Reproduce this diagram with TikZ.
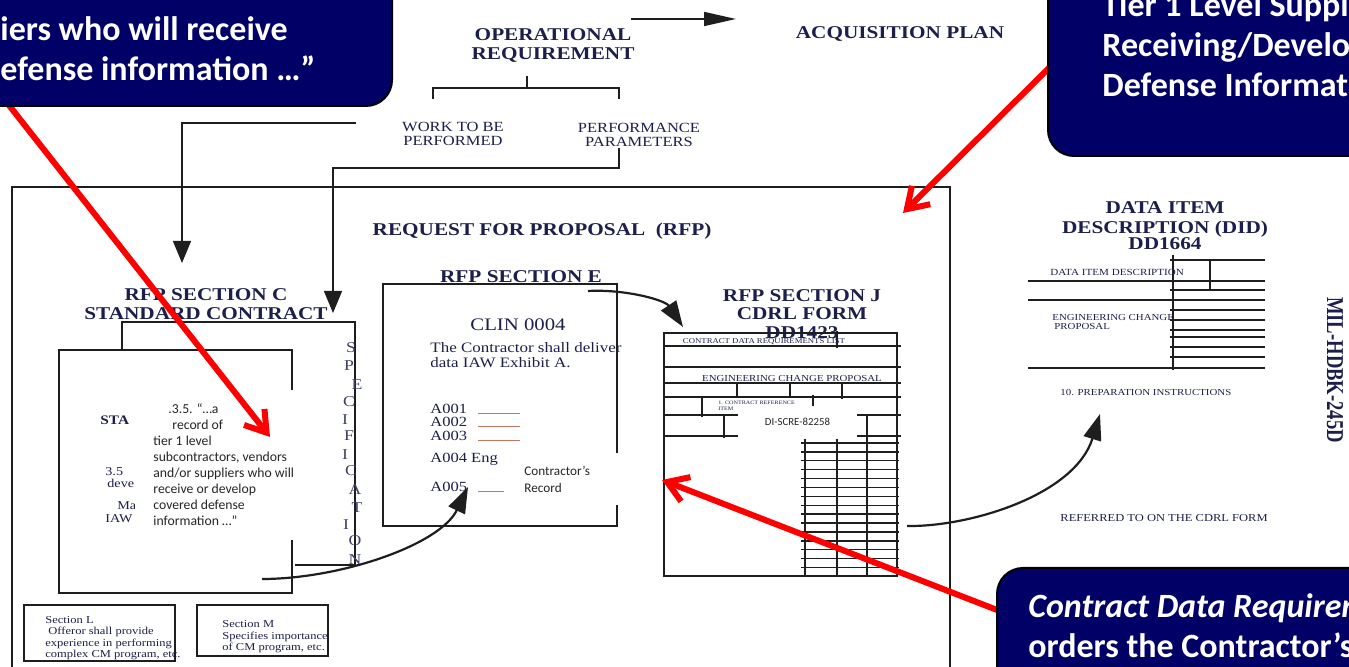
\documentclass[tikz,border=0pt]{standalone}
\usepackage{fontspec}
\setmainfont{Liberation Serif}
\newfontfamily\scanserif[FakeStretch=1.18]{Liberation Serif}
\newfontfamily\slidefont{Carlito}
\usetikzlibrary{arrows.meta,positioning,calc}
\definecolor{Navy}{HTML}{000066}
\definecolor{Ink}{HTML}{1B1F4A}
\definecolor{Rule}{HTML}{1E1E1E}
\definecolor{Hot}{HTML}{FF0000}
\definecolor{Body}{HTML}{262626}
\definecolor{Smear}{HTML}{C07565}

\begin{document}
\begin{tikzpicture}[x=0.5pt,y=-0.5pt,
    hd/.style={font=\scanserif\bfseries\fontsize{9}{9.25}\selectfont,text=Ink,align=center,inner sep=0pt},
    hdsm/.style={font=\scanserif\fontsize{7}{7}\selectfont,text=Ink,align=center,inner sep=0pt},
    txt/.style 2 args={font=\scanserif\fontsize{#1}{#2}\selectfont,text=Ink,align=left,inner sep=0pt},
    spec/.style={font=\scanserif\fontsize{7.5}{7.5}\selectfont,text=Ink!85,inner sep=0pt},
    ln/.style={draw=Rule,line width=0.9pt},
    fine/.style={draw=Rule,line width=0.7pt},
    flow/.style={Rule,line width=0.7pt,-{Triangle[length=11pt,width=9pt]}},
    swoop/.style={Rule,line width=1.1pt,-{Triangle[length=13pt,width=9pt]}},
    hot/.style={Hot,line width=3pt,-{Straight Barb[length=10pt,width=13pt]}},
    bubble/.style={draw=black,line width=1pt,fill=Navy,rounded corners=13pt},
    slide/.style={font=\slidefont\bfseries\fontsize{17}{20}\selectfont,text=white,align=left,inner sep=0pt},
    cover/.style={fill=white,inner sep=0pt},
    note/.style 2 args={font=\slidefont\fontsize{#1}{#2}\selectfont,text=Body,align=left,inner sep=0pt}]

  \useasboundingbox (0,0) rectangle (1349,667);
  \clip (0,0) rectangle (1349,667);

  % requirement and plan
  \node[hd] (opreq) at (553,45.5) {OPERATIONAL\\REQUIREMENT};
  \node[hd] (acq) at (900,34) {ACQUISITION PLAN};
  \coordinate (opOut) at (631,19);
  \coordinate (acqIn) at (736,19);
  \draw[Rule,line width=0.8pt,-{Triangle[length=16pt,width=7pt]}] (opOut) -- (acqIn);
  \draw[ln] (527,76) -- (527,88);
  \draw[ln] (433,99) |- (619,88) -- (619,99);
  \node[hdsm] (work) at (453,133.5) {WORK TO BE\\PERFORMED};
  \node[hdsm] (perf) at (639,135) {PERFORMANCE\\PARAMETERS};
  \coordinate (workOut) at (356,123);
  \coordinate (secCIn) at (182,263);
  \draw[flow] (workOut) -| (secCIn);
  \coordinate (perfOut) at (619,148);
  \coordinate (specIn) at (333,313);
  \draw[flow] (perfOut) -- ++(0,20) -| (specIn);

  % request for proposal
  \draw[ln] (12,187) rectangle (950,690);
  \node[hd] (rfp) at (542,231) {REQUEST FOR PROPOSAL\ \ (RFP)};

  % section C
  \node[hd] (secC) at (206,304) {RFP SECTION C\\STANDARD CONTRACT};
  \draw[ln] (122,350) |- (355,322) -- (355,565) -- (295,565);
  \draw[ln,fill=white] (59,350) rectangle (292,593);
  \node[txt={6.5}{6.5},font=\scanserif\bfseries\fontsize{6.5}{6.5}\selectfont,anchor=west] (pk1) at (100,420) {STA};
  \node[txt={6}{6},anchor=west] (pk2) at (105,472) {3.5};
  \node[txt={6}{6},anchor=west] (pk3) at (107,483) {deve};
  \node[txt={6}{6},anchor=west] (pk4) at (117,506) {Ma};
  \node[txt={6}{6},anchor=west] (pk5) at (105,519) {IAW};
  \node[cover,minimum width=79.5pt,minimum height=75pt,anchor=north west] (recBox) at (135,390) {};
  \node[note={6.85}{8},anchor=west] (recTxt) at (153,465)
    {\hspace*{7.5pt}.3.5. “…a\\\hspace*{9.5pt}record of\\tier 1 level\\subcontractors, vendors\\and/or suppliers who will\\receive or develop\\covered defense\\information …”};
  \foreach \ch/\xx/\yy in {S/351/348,P/349/366,E/357/385,C/349/402,I/345/420,F/349/436,I/345/455,C/351/471,A/355/490,T/357/508,I/346/525,O/355/541,N/355/560}
    \node[spec] (sp\yy) at (\xx,\yy) {\ch};

  % section E
  \node[hd] (secE) at (521,277) {RFP SECTION E};
  \draw[ln] (383,284) rectangle (617,526);
  \node[txt={8.8}{9}] (clin) at (518,325) {CLIN 0004};
  \node[txt={7.2}{7.5},anchor=west] (deliver) at (430,355.5) {The Contractor shall deliver\\data IAW Exhibit A.};
  \foreach \aid/\yy/\len in {A001/414/21pt,A002/427/21pt,A003/440.5/21pt,A005/491.5/13pt}
    \node[txt={7}{7},anchor=base west] (\aid) at (430,\yy) {\aid\hspace{5.6pt}\textcolor{Smear}{\rule{\len}{0.4pt}}};
  \node[txt={7}{7},anchor=base west] (A004) at (430,463) {A004 Eng};
  \node[cover,minimum width=57.5pt,minimum height=26pt,anchor=north west] (crBox) at (505,453) {};
  \node[note={6.6}{8.5},anchor=west] (crTxt) at (524,479) {Contractor’s\\Record};
  \coordinate (cOut) at (262,579);
  \coordinate (eIn) at (468,487);
  \draw[swoop] (cOut) .. controls (340,579) and (440,545) .. (eIn);

  % section J
  \node[hd] (secJ) at (802,314) {RFP SECTION J\\CDRL FORM\\DD1423};
  \draw[ln] (664,333) rectangle (897,576);
  \foreach \yy in {346,367,383,397,415,436}
    \draw[fine] (664,\yy) -- (901,\yy);
  \foreach \xx/\ya/\yb in {837/331/348,737/383/397,790/383/397,842/383/399,813/395/406,702/397/417,724/415/438,867/415/576,805/439/576,837/439/576}
    \draw[fine] (\xx,\ya) -- (\xx,\yb);
  \foreach \k in {0,...,14}
    \draw[fine] (801,443+8.9*\k) -- (899,443+8.9*\k);
  \node[txt={3.7}{4}] (cdrlT) at (764,342) {CONTRACT DATA REQUIREMENTS LIST};
  \node[txt={4.6}{5}] (ecpT) at (792,379) {ENGINEERING CHANGE PROPOSAL};
  \node[txt={2.6}{3},anchor=north west] (refT) at (718,401) {1. CONTRACT REFERENCE\\ITEM};
  \node[cover,minimum width=59.5pt,minimum height=15.5pt,font=\slidefont\fontsize{5.4}{6}\selectfont,text=Body] (diBox) at (797.5,421.5) {DI-SCRE-82258};
  \coordinate (eOut) at (588,291);
  \coordinate (jIn) at (683,327);
  \draw[swoop] (eOut) .. controls (625,289) and (665,300) .. (jIn);

  % data item description
  \node[hd] (did) at (1165,225.5) {DATA ITEM\\[0.75pt]DESCRIPTION (DID)\\[-1.5pt]DD1664};
  \draw[fine] (1170,260) -- (1265,260);
  \draw[fine] (1028,281) -- (1265,281);
  \draw[fine] (1170,290) -- (1265,290);
  \draw[fine] (1028,300) -- (1265,300);
  \foreach \yy in {310,320,330,337,347,357}
    \draw[fine] (1170,\yy) -- (1265,\yy);
  \draw[fine] (1028,368) -- (1265,368);
  \draw[fine] (1173,255) -- (1173,370);
  \draw[fine] (1210,260) -- (1210,290);
  \node[txt={4.7}{5},anchor=west] (didT) at (1050,272) {DATA ITEM DESCRIPTION};
  \node[txt={4.6}{4.8},anchor=west] (didEcp) at (1052,322) {ENGINEERING CHANGE\\\hspace*{1pt}PROPOSAL};
  \node[txt={4.6}{5},anchor=west] (prep) at (1060,393) {10. PREPARATION INSTRUCTIONS};
  \node[txt={5.3}{5.5},anchor=west] (refd) at (1060,518) {REFERRED TO ON THE CDRL FORM};
  \coordinate (jOut) at (907,526);
  \coordinate (didIn) at (1100,414);
  \draw[swoop] (jOut) .. controls (970,527) and (1075,495) .. (didIn);
  \node[font=\bfseries\fontsize{9.3}{9.5}\selectfont,text=Ink,rotate=-90,inner sep=0pt] (mil) at (1335,370) {\scalebox{1}[1.3]{MIL-HDBK-245D}};

  % sections L and M
  \draw[ln] (24,605) rectangle (175,661);
  \node[txt={5.3}{5.75},anchor=west] (secL) at (45,638) {Section L\\\hspace*{1.5pt}Offeror shall provide\\experience in performing\\complex CM program, etc.};
  \draw[ln] (197,605) rectangle (328,656);
  \node[txt={5.3}{5.75},anchor=west] (secM) at (222,637) {Section M\\Specifies importance\\of CM program, etc.};

  % red pointers
  \coordinate (askLfoot) at (-3,90);
  \coordinate (recTip) at (270,437);
  \draw[hot] (askLfoot) -- (recTip);
  \coordinate (askRfoot) at (1057,60);
  \coordinate (rfpTip) at (903,213);
  \draw[hot] (askRfoot) -- (rfpTip);
  \coordinate (askBfoot) at (1010,615);
  \coordinate (formTip) at (662,480);
  \draw[hot] (askBfoot) -- (formTip);

  % callouts
  \node[bubble,minimum width=230pt,minimum height=80pt,anchor=south east] (askL) at (393,107) {};
  \node[slide,anchor=west] (askLtxt) at (0,49) {iers who will receive\\efense information …”};
  \node[bubble,minimum width=190pt,minimum height=110pt,anchor=south west] (askR) at (1047,157) {};
  \node[slide,anchor=west] (askRtxt) at (1102,45) {Tier 1 Level Suppl\\Receiving/Develo\\Defense Informat};
  \node[bubble,minimum width=190pt,minimum height=80pt,anchor=north west] (askB) at (996,567) {};
  \node[slide,anchor=west] (askBtxt) at (1028,626) {{\itshape Contract Data Requirem}\\orders the Contractor’s};
\end{tikzpicture}
\end{document}
